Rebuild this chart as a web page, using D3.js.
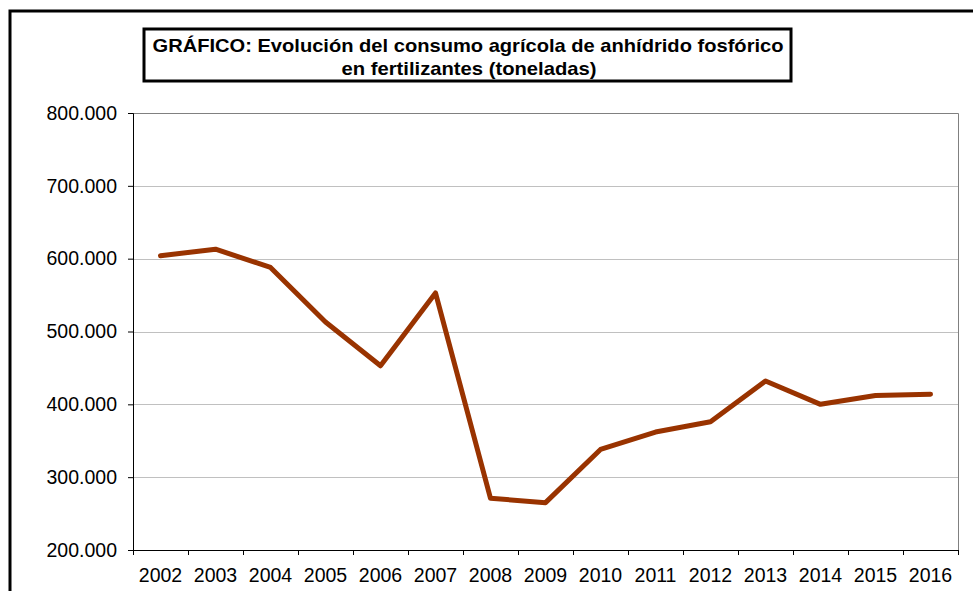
<!DOCTYPE html>
<html><head><meta charset="utf-8">
<script src="https://cdn.jsdelivr.net/npm/d3@7"></script>
<style>body{margin:0;background:#fff}svg{display:block}</style>
</head><body>
<svg id="c" width="973" height="591"></svg>
<script>
const years = ["2002","2003","2004","2005","2006","2007","2008","2009","2010","2011","2012","2013","2014","2015","2016"];
const consumo = [604000,613000,588000,513000,453000,553000,271000,265000,338000,362000,376000,432000,400000,412000,414000];
const yTicks = [200000,300000,400000,500000,600000,700000,800000];
const titleLines = ["GRÁFICO: Evolución del consumo agrícola de anhídrido fosfórico","en fertilizantes (toneladas)"];

const svg = d3.select("#c");
const m = {left:133, right:958, top:113, bottom:550};
const font = "'Liberation Sans', Arial, sans-serif";
const fmt = v => d3.format(",.0f")(v).replace(/,/g, ".");

// outer frame
svg.append("rect").attr("x",10).attr("y",11).attr("width",1000).attr("height",700)
  .attr("fill","none").attr("stroke","#000").attr("stroke-width",3);

const x = d3.scaleBand().domain(years).range([m.left, m.right]);
const y = d3.scaleLinear().domain([200000,800000]).range([m.bottom, m.top]);

// gridlines
svg.append("g").selectAll("line").data(yTicks.filter(t=>t>200000 && t<800000)).join("line")
  .attr("x1",m.left).attr("x2",m.right).attr("y1",d=>Math.round(y(d))+0.5).attr("y2",d=>Math.round(y(d))+0.5)
  .attr("stroke","#c0c0c0").attr("stroke-width",1);

// plot border top/right
svg.append("path").attr("d",`M${m.left},${m.top+0.5}H${m.right+0.5}V${m.bottom}`)
  .attr("fill","none").attr("stroke","#808080").attr("stroke-width",1);

// y axis
const ya = svg.append("g").attr("transform",`translate(${m.left},0)`)
  .call(d3.axisLeft(y).tickValues(yTicks).tickFormat(fmt).tickSize(5).tickPadding(11));
ya.select(".domain").attr("stroke","#000");
ya.selectAll("text").attr("font-family",font).attr("font-size","19.5px").attr("fill","#000");

// x axis
const xa = svg.append("g").attr("transform",`translate(0,${m.bottom})`)
  .call(d3.axisBottom(x).tickSize(0).tickPadding(18));
xa.select(".domain").attr("stroke","#000");
xa.selectAll("text").attr("font-family",font).attr("font-size","19.5px").attr("fill","#000");
svg.append("g").selectAll("line").data(years.concat(["end"])).join("line")
  .attr("x1",(d,i)=>Math.round(m.left + i*x.bandwidth())+0.5).attr("x2",(d,i)=>Math.round(m.left + i*x.bandwidth())+0.5)
  .attr("y1",m.bottom).attr("y2",m.bottom+5).attr("stroke","#000");

// line
const line = d3.line().x((d,i)=>x(years[i])+x.bandwidth()/2).y(d=>y(d));
svg.append("path").datum(consumo).attr("d",line).attr("fill","none")
  .attr("stroke","#993300").attr("stroke-width",5).attr("stroke-linejoin","round").attr("stroke-linecap","round");

// title box
svg.append("rect").attr("x",144).attr("y",29).attr("width",647).attr("height",52)
  .attr("fill","#fff").attr("stroke","#000").attr("stroke-width",3);
const tl = [{cx:468, y:52, w:631},{cx:469, y:75, w:255}];
svg.append("g").selectAll("text").data(titleLines).join("text")
  .attr("x",(d,i)=>tl[i].cx).attr("y",(d,i)=>tl[i].y).attr("text-anchor","middle")
  .attr("textLength",(d,i)=>tl[i].w).attr("lengthAdjust","spacingAndGlyphs")
  .attr("font-family",font).attr("font-weight","bold").attr("font-size","18.5px").attr("fill","#000")
  .text(d=>d);
</script>
</body></html>
